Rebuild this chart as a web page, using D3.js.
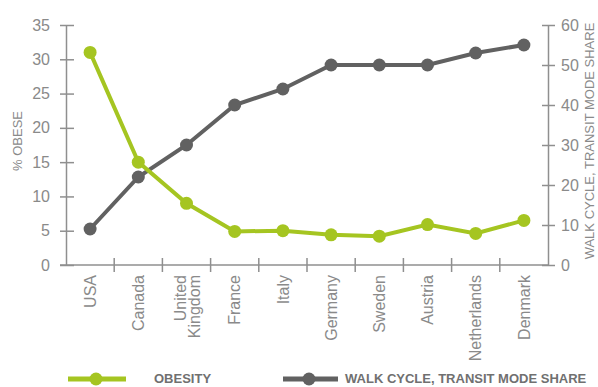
<!DOCTYPE html>
<html><head><meta charset="utf-8">
<script src="https://cdn.jsdelivr.net/npm/d3@7"></script>
<style>body{margin:0;background:#fff;} svg{display:block;font-family:"Liberation Sans",Arial,sans-serif;}</style>
</head><body><svg id="c" width="598" height="387"></svg>
<script>
const categories = ["USA","Canada","United Kingdom","France","Italy","Germany","Sweden","Austria","Netherlands","Denmark"];
const obesity = [31, 15, 9, 4.9, 5, 4.4, 4.2, 5.9, 4.6, 6.5];
const modeShare = [9, 22, 30, 40, 44, 50, 50, 50, 53, 55];
const leftTicks = [0,5,10,15,20,25,30,35];
const rightTicks = [0,10,20,30,40,50,60];
const seriesNames = ["OBESITY","WALK CYCLE, TRANSIT MODE SHARE"];
const yTitles = ["% OBESE","WALK CYCLE, TRANSIT MODE SHARE"];

const green = "#a5c521", gray = "#616161", axisC = "#8f8f8f", textC = "#8a8a8a";
const svg = d3.select("#c");
const L = 66, R = 548, T = 25, B = 265;
const x = d3.scaleBand().domain(categories).range([L, R]);
const yL = d3.scaleLinear().domain([0,35]).range([B, T]);
const yR = d3.scaleLinear().domain([0,60]).range([B, T]);

// left axis
const gl = svg.append("g").attr("transform",`translate(${L},0)`)
  .call(d3.axisLeft(yL).tickValues(leftTicks).tickSize(6).tickPadding(10).tickSizeOuter(0));
gl.selectAll(".tick line").attr("x2",-6).attr("x1",8);
// right axis
const gr = svg.append("g").attr("transform",`translate(${R},0)`)
  .call(d3.axisRight(yR).tickValues(rightTicks).tickSize(7).tickPadding(6).tickSizeOuter(0));
gr.selectAll(".tick line").attr("x1",-6);
// bottom axis with ticks at band boundaries
const gb = svg.append("g");
gb.append("line").attr("x1",L-6).attr("x2",R).attr("y1",B).attr("y2",B);
const bounds = categories.slice(1).map(c => x(c));
gb.selectAll("line.t").data(bounds).enter().append("line").attr("class","t")
  .attr("x1",d=>d).attr("x2",d=>d).attr("y1",B-7).attr("y2",B+7);
[gl,gr].forEach(g=>{
  g.select(".domain").attr("stroke",axisC).attr("stroke-width",1.5);
  g.selectAll(".tick line").attr("stroke",axisC).attr("stroke-width",1.5);
  g.selectAll(".tick text").attr("fill",textC).attr("font-size",16).attr("font-family","Liberation Sans, Arial, sans-serif");
});
gb.selectAll("line").attr("stroke",axisC).attr("stroke-width",1.5);

// category labels
categories.forEach(c=>{
  const cx = x(c)+x.bandwidth()/2;
  const lines = c === "United Kingdom" ? ["United","Kingdom"] : [c];
  const t = svg.append("text").attr("transform",`translate(${cx},275) rotate(-90)`)
    .attr("text-anchor","end").attr("fill",textC).attr("font-size",16);
  lines.forEach((l,i)=>{
    t.append("tspan").attr("x",0).attr("dy", i===0 ? (lines.length===1? "0.35em" : "-0.05em") : "0.9em").text(l);
  });
});

// axis titles
svg.append("text").attr("transform",`translate(22,141) rotate(-90)`).attr("text-anchor","middle")
  .attr("fill",textC).attr("font-size",13).text(yTitles[0]);
svg.append("text").attr("transform",`translate(594,141) rotate(-90)`).attr("text-anchor","middle")
  .attr("fill",textC).attr("font-size",13).text(yTitles[1]);

// series
const cx = c => x(c)+x.bandwidth()/2;
function series(vals, scale, color){
  const pts = categories.map((c,i)=>[cx(c), scale(vals[i])]);
  svg.append("path").attr("d", d3.line()(pts)).attr("fill","none").attr("stroke",color).attr("stroke-width",4);
  svg.append("g").selectAll("circle").data(pts).enter().append("circle")
    .attr("cx",d=>d[0]).attr("cy",d=>d[1]).attr("r",6.5).attr("fill",color);
}
series(modeShare, yR, gray);
series(obesity, yL, green);

// legend
function legend(x0, x1, dotX, textX, color, label){
  svg.append("line").attr("x1",x0).attr("x2",x1).attr("y1",379).attr("y2",379).attr("stroke",color).attr("stroke-width",5);
  svg.append("circle").attr("cx",dotX).attr("cy",379).attr("r",6.5).attr("fill",color);
  svg.append("text").attr("x",textX).attr("y",383).attr("font-size",13).attr("font-weight","bold").attr("fill","#707070").text(label);
}
legend(68,126,96,154,green,seriesNames[0]);
legend(283,338,309,345,gray,seriesNames[1]);
</script></body></html>
